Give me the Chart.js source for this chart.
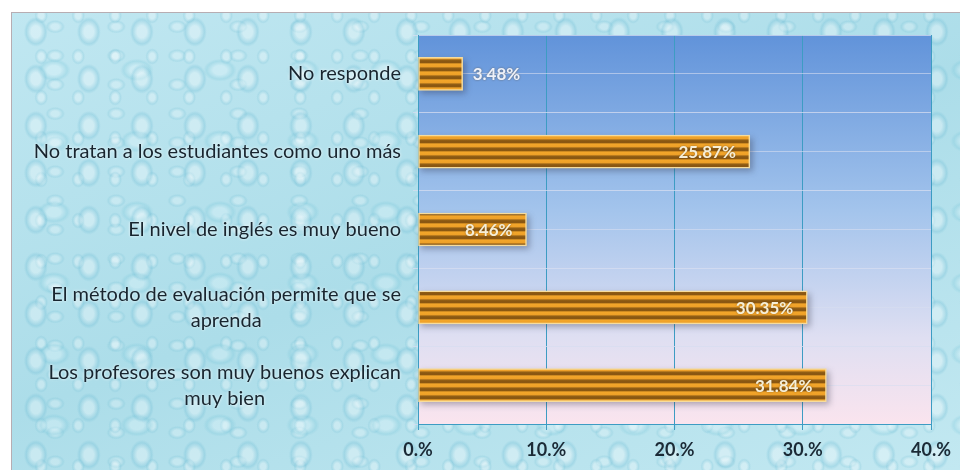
<!DOCTYPE html>
<html>
<head>
<meta charset="utf-8">
<script src="https://cdn.jsdelivr.net/npm/chart.js@4"></script>
<style>
  html, body { margin: 0; padding: 0; background: #fff; }
  #wrap { position: relative; width: 960px; height: 470px; overflow: hidden; }
  #bg {
    position: absolute; left: 11px; top: 12px; right: 0; bottom: 0;
    border-left: 1px solid #b7adb2; border-top: 1px solid #b7adb2;
    background-color: #b6e2ee;
    background-image:
      radial-gradient(ellipse 16px 20px at 45% 40%, rgba(255,255,255,0.32) 0 30%, rgba(105,185,210,0.28) 60%, transparent 75%),
      radial-gradient(ellipse 22px 15px at 30% 65%, rgba(240,252,255,0.3) 0 30%, rgba(115,195,215,0.25) 60%, transparent 76%),
      radial-gradient(ellipse 9px 11px at 60% 50%, rgba(255,255,255,0.3) 0 30%, rgba(115,190,212,0.22) 60%, transparent 76%),
      radial-gradient(ellipse 13px 9px at 20% 30%, rgba(255,255,255,0.25) 0 30%, rgba(110,188,210,0.2) 60%, transparent 76%),
      linear-gradient(160deg, #c0e7f1, #acdde9 50%, #c2e8f1);
    background-size: 53px 47px, 83px 71px, 37px 41px, 61px 29px, 100% 100%;
    background-position: 0 0, 17px 11px, 7px 23px, 31px 5px, 0 0;
  }
  canvas { position: absolute; left: 0; top: 0; }
</style>
</head>
<body>
<div id="wrap">
  <div id="bg"></div>
  <canvas id="chart" width="960" height="470"></canvas>
</div>
<script>
// survey answers, percent of students
const categories = [
  "No responde",
  "No tratan a los estudiantes como uno más",
  "El nivel de inglés es muy bueno",
  ["El método de evaluación permite que se", "aprenda"],
  ["Los profesores son muy buenos explican", "muy bien"]
];
const percentages = [3.48, 25.87, 8.46, 30.35, 31.84];
const valueLabels = ["3.48%", "25.87%", "8.46%", "30.35%", "31.84%"];
const xTicks = [0, 10, 20, 30, 40];

// striped orange fill for the bars
function stripePattern() {
  const c = document.createElement("canvas");
  c.width = 4; c.height = 8;
  const g = c.getContext("2d");
  const grad = g.createLinearGradient(0, 0, 0, 8);
  grad.addColorStop(0, "#f3a62a");
  grad.addColorStop(0.35, "#eea028");
  grad.addColorStop(0.5, "#946016");
  grad.addColorStop(0.8, "#845210");
  grad.addColorStop(1, "#f0a42a");
  g.fillStyle = grad;
  g.fillRect(0, 0, 4, 8);
  return g.createPattern(c, "repeat");
}

const plotBackground = {
  id: "plotBackground",
  beforeDraw(chart) {
    const { ctx, chartArea: a } = chart;
    const grad = ctx.createLinearGradient(0, a.top, 0, a.bottom);
    grad.addColorStop(0, "#6193da");
    grad.addColorStop(0.45, "#a3c4ec");
    grad.addColorStop(0.78, "#dfdff2");
    grad.addColorStop(1, "#fae4ee");
    ctx.save();
    ctx.fillStyle = grad;
    ctx.fillRect(a.left, a.top, a.right - a.left, a.bottom - a.top);
    ctx.restore();
  }
};

const barShadow = {
  id: "barShadow",
  beforeDatasetsDraw(chart) {
    const ctx = chart.ctx;
    ctx.save();
    ctx.filter = "blur(3px)";
    ctx.fillStyle = "rgba(40,40,60,0.35)";
    chart.getDatasetMeta(0).data.forEach(bar => {
      const p = bar.getProps(["x", "y", "base", "height"], true);
      ctx.fillRect(p.base + 2, p.y - p.height / 2 + 3, p.x - p.base + 1, p.height);
    });
    ctx.restore();
  }
};

const valueText = {
  id: "valueText",
  afterDatasetsDraw(chart) {
    const ctx = chart.ctx;
    ctx.save();
    ctx.font = "bold 17px Lato";
    ctx.textBaseline = "middle";
    chart.getDatasetMeta(0).data.forEach((bar, i) => {
      const p = bar.getProps(["x", "y", "base"], true);
      const txt = valueLabels[i];
      const w = ctx.measureText(txt).width;
      ctx.shadowColor = "rgba(90,60,20,0.6)";
      ctx.shadowBlur = 2;
      if (w + 24 > p.x - p.base) {
        ctx.fillStyle = "#eef2fb";
        ctx.textAlign = "left";
        ctx.fillText(txt, p.x + 10, p.y + 1);
      } else {
        ctx.fillStyle = "#f6efd8";
        ctx.textAlign = "right";
        ctx.fillText(txt, p.x - 14, p.y + 1);
      }
    });
    ctx.restore();
  }
};

// category labels: block right aligned, lines centred inside the block
const categoryText = {
  id: "categoryText",
  afterDraw(chart) {
    const ctx = chart.ctx;
    const y = chart.scales.y;
    const right = chart.chartArea.left - 17;
    ctx.save();
    ctx.font = "20px Lato";
    ctx.fillStyle = "#18252f";
    ctx.textAlign = "center";
    ctx.textBaseline = "middle";
    ctx.shadowColor = "rgba(255,255,255,0.9)";
    ctx.shadowBlur = 3;
    categories.forEach((lab, i) => {
      const lines = Array.isArray(lab) ? lab : [lab];
      const maxW = Math.max(...lines.map(l => ctx.measureText(l).width));
      const cy = y.getPixelForValue(i);
      const lh = 26;
      lines.forEach((l, k) => {
        ctx.fillText(l, right - maxW / 2, cy + (k - (lines.length - 1) / 2) * lh);
      });
    });
    ctx.restore();
  }
};

new Chart(document.getElementById("chart"), {
  type: "bar",
  data: {
    labels: categories,
    datasets: [{
      data: percentages,
      backgroundColor: stripePattern(),
      borderColor: "#f7dc9c",
      borderWidth: 1.5,
      borderSkipped: false,
      barThickness: 33
    }]
  },
  options: {
    indexAxis: "y",
    responsive: false,
    animation: false,
    layout: { padding: { top: 35, right: 28, left: 0, bottom: 0 } },
    plugins: { legend: { display: false }, tooltip: { enabled: false } },
    scales: {
      x: {
        min: 0, max: 40,
        afterBuildTicks: s => { s.ticks = xTicks.map(v => ({ value: v })); },
        afterFit: s => { s.height = 46; },
        grid: { color: "#3d9cc3", lineWidth: 1, tickLength: 6 },
        border: { color: "#3d9cc3" },
        ticks: {
          padding: 9,
          color: "#1b2a36",
          font: { family: "Lato", size: 18, weight: "bold" },
          callback: v => v + ".%"
        }
      },
      y: {
        afterFit: s => { s.width = 418; },
        grid: { color: "rgba(215,222,240,0.75)", offset: true, tickLength: 5 },
        border: { color: "#3d9cc3" },
        ticks: { display: false }
      },
      y2: {
        type: "category",
        position: "left",
        offset: true,
        afterFit: s => { s.width = 0; },
        grid: { color: "rgba(215,222,240,0.6)", offset: false, drawTicks: false },
        border: { display: false },
        ticks: { display: false }
      }
    }
  },
  plugins: [plotBackground, barShadow, valueText, categoryText]
});
</script>
</body>
</html>
